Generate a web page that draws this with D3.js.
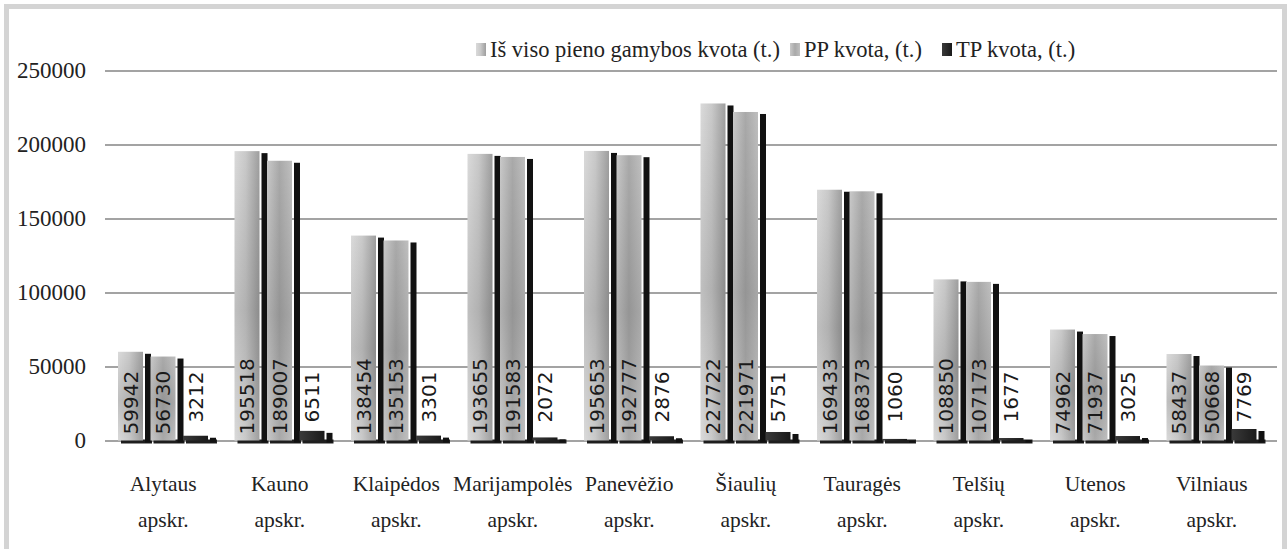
<!DOCTYPE html>
<html>
<head>
<meta charset="utf-8">
<script src="https://cdn.jsdelivr.net/npm/d3@7"></script>
<style>
  html, body { margin: 0; padding: 0; background: #fff; }
  svg { display: block; }
  .serif { font-family: "Liberation Serif", "DejaVu Serif", Tinos, "Noto Serif", "Times New Roman", Times, FreeSerif, serif; }
  .lbl { font-family: "DejaVu Sans", sans-serif; }
</style>
</head>
<body>
<div id="chart"></div>
<script>
// ---- data ----
const categories = [
    ["Alytaus", "apskr."], ["Kauno", "apskr."], ["Klaipėdos", "apskr."],
    ["Marijampolės", "apskr."], ["Panevėžio", "apskr."], ["Šiaulių", "apskr."],
    ["Tauragės", "apskr."], ["Telšių", "apskr."], ["Utenos", "apskr."], ["Vilniaus", "apskr."]
];
const seriesNames = ["Iš viso pieno gamybos kvota (t.)", "PP kvota, (t.)", "TP kvota, (t.)"];
const totalQuota = [59942, 195518, 138454, 193655, 195653, 227722, 169433, 108850, 74962, 58437];
const ppQuota    = [56730, 189007, 135153, 191583, 192777, 221971, 168373, 107173, 71937, 50668];
const tpQuota    = [3212, 6511, 3301, 2072, 2876, 5751, 1060, 1677, 3025, 7769];
const yTicks = [0, 50000, 100000, 150000, 200000, 250000];

const rows = categories.map((c, i) => ({
    cat: c.join(" "),
    lines: c,
    values: [totalQuota[i], ppQuota[i], tpQuota[i]]
}));

// ---- svg ----
const width = 1287, height = 549;
const svg = d3.select("#chart").append("svg")
    .attr("width", width)
    .attr("height", height);

// gradients
const defs = svg.append("defs");
function linGrad(id, stops, vertical) {
    const g = defs.append("linearGradient").attr("id", id)
        .attr("x1", 0).attr("y1", 0)
        .attr("x2", vertical ? 0 : 1).attr("y2", vertical ? 1 : 0);
    stops.forEach(([o, c, a]) => g.append("stop").attr("offset", o)
        .attr("stop-color", c).attr("stop-opacity", a == null ? 1 : a));
}
linGrad("g0", [[0, "#dadada"], [0.45, "#c9c9c9"], [1, "#9e9e9e"]]);
linGrad("g1", [[0, "#c9c9c9"], [0.5, "#a9a9a9"], [1, "#bfbfbf"]]);
linGrad("g2", [[0, "#3a3a3a"], [1, "#1a1a1a"]]);
linGrad("shade", [[0, "#000", 0], [0.55, "#000", 0.12], [1, "#000", 0]], true);

// frame
svg.append("rect")
    .attr("x", 6.5).attr("y", 6.5)
    .attr("width", 1278).attr("height", 600)
    .attr("fill", "none")
    .attr("stroke", "#d4d4d4")
    .attr("stroke-width", 5);

// ---- scales ----
const plotLeft = 105, plotRight = 1270, gridRight = 1277;
const x = d3.scaleBand()
    .domain(rows.map(d => d.cat))
    .range([plotLeft, plotRight])
    .paddingInner(0).paddingOuter(0);

const x1 = d3.scaleBand()
    .domain([0, 1, 2])
    .range([13, 110.5])
    .padding(0);

const y = d3.scaleLinear()
    .domain([0, 250000])
    .range([440.5, 70.5]);

// ---- y axis + gridlines ----
const yAxis = svg.append("g")
    .attr("transform", `translate(${plotLeft},0)`)
    .call(d3.axisLeft(y).tickValues(yTicks).tickSize(-(gridRight - plotLeft)).tickPadding(19).tickFormat(d3.format("d")));
yAxis.attr("font-family", null).attr("font-size", null);
yAxis.select(".domain").remove();
yAxis.selectAll(".tick line")
    .attr("stroke", "#a3a3a3")
    .attr("stroke-width", 2);
yAxis.selectAll(".tick text")
    .attr("class", "serif")
    .style("font-size", "23px")
    .attr("fill", "#222");

// ---- x axis labels ----
const xAxis = svg.append("g")
    .attr("transform", `translate(0,${y(0)})`)
    .call(d3.axisBottom(x).tickSize(0).tickFormat(""));
xAxis.attr("font-family", null).attr("font-size", null);
xAxis.select(".domain").remove();
xAxis.selectAll(".tick").each(function(cat) {
    const row = rows.find(r => r.cat === cat);
    const t = d3.select(this).select("text")
        .attr("class", "serif")
        .style("font-size", "21.5px")
        .attr("fill", "#222")
        .attr("y", 0)
        .attr("dy", null);
    row.lines.forEach((ln, i) => {
        t.append("tspan").attr("x", 0).attr("y", i === 0 ? 50 : 86).text(ln);
    });
});

// ---- bars ----
const fills = ["url(#g0)", "url(#g1)", "url(#g2)"];
const faceW = 25, gap = 2, sideW = 6;
const y0 = y(0);

const groups = svg.append("g")
    .selectAll("g")
    .data(rows)
    .join("g")
    .attr("transform", d => `translate(${x(d.cat)},0)`);

const bars = groups.selectAll("g.bar")
    .data(d => d.values.map((v, i) => ({ v, i })))
    .join("g")
    .attr("class", "bar")
    .attr("transform", d => `translate(${x1(d.i)},0)`);

// bottom shadow
bars.append("rect")
    .attr("x", 3)
    .attr("y", y0 - 1)
    .attr("width", faceW + gap + sideW - 2)
    .attr("height", 4)
    .attr("fill", "#1e1e1e");

// side strip
bars.append("rect")
    .attr("x", faceW + gap)
    .attr("y", d => y(d.v) + 2)
    .attr("width", sideW)
    .attr("height", d => y0 + 2 - (y(d.v) + 2))
    .attr("fill", "#111");

// front face
bars.append("rect")
    .attr("x", 0)
    .attr("y", d => y(d.v))
    .attr("width", faceW)
    .attr("height", d => y0 - y(d.v))
    .attr("fill", d => fills[d.i]);

bars.filter(d => d.i < 2).append("rect")
    .attr("x", 0)
    .attr("y", d => y(d.v))
    .attr("width", faceW)
    .attr("height", d => y0 - y(d.v))
    .attr("fill", "url(#shade)");

// value labels
bars.append("text")
    .attr("class", "lbl")
    .attr("transform", d => `translate(${faceW / 2},${d.i < 2 ? y0 - 6 : y0 - 18}) rotate(-90)`)
    .attr("dy", "0.36em")
    .style("font-size", "20px")
    .attr("fill", "#1a1a1a")
    .text(d => d.v);

// ---- legend ----
const legendX = [476, 790, 942];
const legend = svg.append("g");
seriesNames.forEach((name, i) => {
    const row = legend.append("g").attr("transform", `translate(${legendX[i]},50)`);
    row.append("rect")
        .attr("x", 0).attr("y", -7)
        .attr("width", 10).attr("height", 13)
        .attr("fill", fills[i]);
    row.append("text")
        .attr("class", "serif")
        .attr("x", 14)
        .attr("y", 7)
        .style("font-size", "22.5px")
        .attr("fill", "#222")
        .text(name);
});
</script>
</body>
</html>
